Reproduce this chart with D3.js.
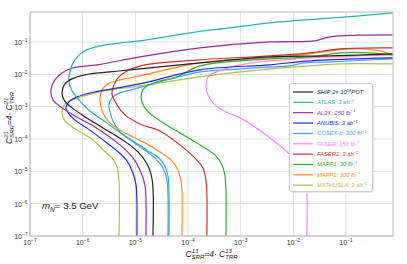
<!DOCTYPE html>
<html><head><meta charset="utf-8">
<script src="https://cdn.jsdelivr.net/npm/d3@7"></script>
<style>body{margin:0;background:#fff}svg{display:block}text{font-family:"Liberation Sans",Arial,sans-serif}</style>
</head><body>
<svg id="c" width="407" height="264"></svg>
<script>
// ---------- data ----------
const xTicks = [1e-7, 1e-6, 1e-5, 1e-4, 1e-3, 1e-2, 1e-1];
const yTicks = [1e-7, 1e-6, 1e-5, 1e-4, 1e-3, 1e-2, 1e-1];
const tickExp = ["-7", "-6", "-5", "-4", "-3", "-2", "-1"];

const seriesLabels = [
  "SHIP:2\u00d7 10^{18} POT", "ATLAS: 3 ab^{\u22121}", "AL3X: 250 fb^{\u22121}", "ANUBIS: 3 ab^{\u22121}",
  "COSEX-b: 300 fb^{\u22121}", "FASER: 150 fb^{\u22121}", "FASER2: 3 ab^{\u22121}", "MAPP1: 30 fb^{\u22121}",
  "MAPP2: 300 fb^{\u22121}", "MATHUSLA: 3 ab^{\u22121}"
];
const seriesColors = ["#222222", "#22b4b4", "#9c2a9c", "#2626f0", "#38a6ff", "#ff80ff", "#c83434", "#26b526", "#ff8c1e", "#bcbc3c"];

// contour points [C13, C21], from y = 1e-7 up around the nose to the right edge
const ship = [[2.16e-5,1e-7],[2.16e-5,3.06e-6],[1.98e-5,8.3e-6],[1.59e-5,1.95e-5],[1.12e-5,3.99e-5],[6.93e-6,7.6e-5],[2.43e-6,2.21e-4],[1.2e-6,4.5e-4],[6.3e-7,9.2e-4],[4.42e-7,1.63e-3],[4.05e-7,2.67e-3],[4.6e-7,5.08e-3],[6.3e-7,7.26e-3],[1.1e-6,9.66e-3],[3.3e-6,1.19e-2],[1.22e-5,1.48e-2],[1.68e-4,2.27e-2],[3.58e-3,3.48e-2],[4.93e-2,3.74e-2],[0.77,4.32e-2]];
const atlas = [[4.34e-5,1e-7],[4.34e-5,2.65e-6],[4.16e-5,7.2e-6],[3.65e-5,1.47e-5],[2.8e-5,2.6e-5],[1.73e-5,4.29e-5],[9.0e-6,8.7e-5],[4.68e-6,1.78e-4],[2.54e-6,3.63e-4],[1.38e-6,7.4e-4],[8.5e-7,1.63e-3],[6.3e-7,3.08e-3],[5.5e-7,5.86e-3],[5.7e-7,1.19e-2],[7.1e-7,2.81e-2],[1.1e-6,5.35e-2],[2.13e-6,7.62e-2],[5.1e-6,9.44e-2],[1.22e-5,0.109],[1.09e-4,0.193],[6.24e-4,0.275],[3.58e-3,0.393],[3.18e-2,0.522],[0.183,0.647],[0.77,0.8]];
const al3x = [[1.59e-5,1e-7],[1.59e-5,1.3e-6],[1.52e-5,3.8e-6],[1.22e-5,1.1e-5],[9.0e-6,2.6e-5],[5.1e-6,6.6e-5],[1.71e-6,2.37e-4],[7.1e-7,5.19e-4],[4.05e-7,9.2e-4],[2.73e-7,1.63e-3],[2.5e-7,3.31e-3],[2.98e-7,6.76e-3],[4.05e-7,1.11e-2],[6.5e-7,1.59e-2],[1.87e-6,1.97e-2],[1.22e-5,3.48e-2],[1.68e-4,6.61e-2],[3.58e-3,0.101],[2.56e-2,0.109],[4.93e-2,0.145],[0.77,0.167]];
const anubis = [[1.07e-5,1e-7],[1.07e-5,1.3e-6],[1.03e-5,3.8e-6],[9.0e-6,8.9e-6],[6.93e-6,2.1e-5],[4.48e-6,4.29e-5],[2.43e-6,9.4e-5],[1.26e-6,2.06e-4],[7.1e-7,3.9e-4],[5.3e-7,6.43e-4],[4.8e-7,9.2e-4],[5.5e-7,1.41e-3],[7.8e-7,2.01e-3],[1.71e-6,2.87e-3],[1.22e-5,5.08e-3],[1.68e-4,1.38e-2],[3.58e-3,1.97e-2],[2.06e-2,2.62e-2],[0.77,3.24e-2]];
const cosex = [[4.16e-5,1e-7],[4.16e-5,1.86e-6],[3.98e-5,5.4e-6],[3.34e-5,1.27e-5],[2.35e-5,2.6e-5],[1.39e-5,4.93e-5],[7.9e-6,9.4e-5],[5.1e-6,1.66e-4],[3.76e-6,3.63e-4],[3.3e-6,6.9e-4],[3.15e-6,1.14e-3],[3.6e-6,1.87e-3],[5.1e-6,2.67e-3],[9.8e-6,3.56e-3],[2.93e-5,5.86e-3],[1.68e-4,1.19e-2],[9.7e-4,1.48e-2],[3.58e-3,1.71e-2],[8.6e-3,1.83e-2],[1.65e-2,2.27e-2],[4.93e-2,2.44e-2],[0.77,3.02e-2]];
const faser = [[1.8e-2,1e-7],[1.8e-2,2.65e-6],[1.65e-2,6.7e-6],[1.22e-2,1.69e-5],[6.9e-3,4.6e-5],[3.58e-3,1.08e-4],[1.86e-3,2.37e-4],[9.7e-4,4.5e-4],[4.8e-4,7.4e-4],[3.1e-4,1.22e-3],[2.39e-4,2.32e-3],[2.19e-4,4.73e-3],[2.39e-4,8.37e-3],[2.84e-4,1.04e-2],[4.4e-4,1.38e-2],[9.7e-4,1.97e-2],[3.58e-3,2.62e-2],[2.06e-2,3.24e-2],[0.77,4.02e-2]];
const faser2 = [[2.28e-4,1e-7],[2.28e-4,1.86e-6],[2.19e-4,5.4e-6],[1.92e-4,1.27e-5],[1.35e-4,2.6e-5],[7.0e-5,6.6e-5],[2.93e-5,1.78e-4],[1.22e-5,2.93e-4],[6.35e-6,5.57e-4],[4.48e-6,1.14e-3],[3.6e-6,2.49e-3],[3.93e-6,4.73e-3],[4.68e-6,7.8e-3],[6.93e-6,1.28e-2],[1.52e-5,1.97e-2],[1.68e-4,2.81e-2],[3.58e-3,3.74e-2],[2.06e-2,4.63e-2],[7.6e-2,6.17e-2],[0.77,6.61e-2]];
const mapp1 = [[5.24e-4,1e-7],[5.24e-4,2.65e-6],[5.0e-4,7.7e-6],[4.4e-4,1.58e-5],[3.24e-4,3.22e-5],[1.68e-4,6.6e-5],[7.0e-5,1.55e-4],[3.65e-5,2.93e-4],[2.16e-5,5.19e-4],[1.52e-5,9.2e-4],[1.28e-5,2.01e-3],[1.39e-5,3.31e-3],[1.66e-5,4.4e-3],[2.57e-5,5.86e-3],[6.15e-5,8.37e-3],[1.68e-4,1.83e-2],[3.58e-3,3.02e-2],[2.06e-2,3.48e-2],[7.6e-2,4.63e-2],[0.283,4.63e-2],[0.77,4.02e-2]];
const mapp2 = [[7.66e-5,1e-7],[7.66e-5,2.65e-6],[7.3e-5,5.4e-6],[6.43e-5,1.1e-5],[4.95e-5,2.1e-5],[2.93e-5,3.99e-5],[1.52e-5,7.6e-5],[6.35e-6,1.55e-4],[3.3e-6,3.15e-4],[2.43e-6,6.43e-4],[2.13e-6,1.63e-3],[2.32e-6,3.31e-3],[3.02e-6,5.08e-3],[5.1e-6,6.76e-3],[1.22e-5,8.99e-3],[1.68e-4,2.27e-2],[3.58e-3,3.24e-2],[2.06e-2,4.32e-2],[0.118,6.17e-2],[0.438,5.35e-2],[0.77,4.02e-2]];
const mathusla = [[4.89e-6,1e-7],[4.89e-6,5.4e-6],[4.48e-6,1.37e-5],[3.6e-6,2.6e-5],[2.43e-6,4.6e-5],[1.57e-6,9.4e-5],[7.8e-7,1.91e-4],[4.6e-7,3.63e-4],[4.05e-7,6.43e-4],[4.6e-7,1.22e-3],[7.1e-7,1.74e-3],[2.13e-6,2.87e-3],[1.22e-5,4.4e-3],[1.68e-4,8.37e-3],[3.58e-3,1.48e-2],[2.06e-2,1.83e-2],[7.6e-2,2.11e-2],[0.77,2.11e-2]];
const seriesData = [ship, atlas, al3x, anubis, cosex, faser, faser2, mapp1, mapp2, mathusla];
const drawOrder = [4, 5, 9, 8, 7, 6, 3, 2, 1, 0];

// ---------- layout ----------
const svg = d3.select("#c");
const L = 30, R = 393, T = 12, B = 236;
const x = d3.scaleLog().domain([1e-7, 0.78]).range([L, R]);
const y = d3.scaleLog().domain([1e-7, 0.85]).range([B, T]);

// math text helper
function mathText(parent, parts, fs, anchor, fill, italic) {
  const g = parent.append("g");
  let cur = 0;
  const put = (t, dx, dy, size, it) => {
    const n = g.append("text").attr("x", dx).attr("y", dy).attr("font-size", size)
      .attr("fill", fill).attr("font-style", it ? "italic" : "normal").text(t);
    return n.node().getComputedTextLength();
  };
  parts.forEach(p => {
    if (p.t !== undefined) cur += put(p.t, cur, 0, fs, p.i !== undefined ? p.i : italic);
    else {
      let w1 = 0, w2 = 0;
      if (p.sup) w1 = put(p.sup, cur, -fs * 0.42, fs * 0.7, p.i !== undefined ? p.i : italic);
      if (p.sub) w2 = put(p.sub, cur, fs * 0.28, fs * 0.7, p.i !== undefined ? p.i : italic);
      cur += Math.max(w1, w2);
    }
  });
  const off = anchor === "middle" ? -cur / 2 : anchor === "end" ? -cur : 0;
  g.selectAll("text").attr("x", function() { return +this.getAttribute("x") + off; });
  return g;
}
function parseLabel(s) {
  const parts = [];
  const re = /\^\{([^}]*)\}/g;
  let last = 0, m;
  while ((m = re.exec(s))) {
    if (m.index > last) parts.push({t: s.slice(last, m.index)});
    parts.push({sup: m[1]});
    last = re.lastIndex;
  }
  if (last < s.length) parts.push({t: s.slice(last)});
  return parts;
}

// grid
const grid = svg.append("g");
grid.selectAll(".gx").data(xTicks).join("line")
  .attr("x1", d => x(d)).attr("x2", d => x(d)).attr("y1", T).attr("y2", B)
  .attr("stroke", "#dedede").attr("stroke-width", 1);
grid.selectAll(".gy").data(yTicks).join("line")
  .attr("x1", L).attr("x2", R).attr("y1", d => y(d)).attr("y2", d => y(d))
  .attr("stroke", "#dedede").attr("stroke-width", 1);

// curves
svg.append("clipPath").attr("id", "clip").append("rect").attr("x", L).attr("y", T).attr("width", R - L).attr("height", B - T);
const line = d3.line().x(d => x(d[0])).y(d => y(d[1])).curve(d3.curveCatmullRom.alpha(0.5));
const cg = svg.append("g").attr("clip-path", "url(#clip)");
drawOrder.forEach(i => {
  cg.append("path").attr("d", line(seriesData[i])).attr("fill", "none")
    .attr("stroke", seriesColors[i]).attr("stroke-width", 1.2);
});

// frame
svg.append("rect").attr("x", L).attr("y", T).attr("width", R - L).attr("height", B - T)
  .attr("fill", "none").attr("stroke", "#b8b8b8").attr("stroke-width", 1);

// tick labels
xTicks.forEach((d, i) => {
  const g = mathText(svg, [{t: "10"}, {sup: "\u2212" + tickExp[i].slice(1)}], 7, "middle", "#333", false);
  g.attr("transform", `translate(${x(d)},${245})`);
});
yTicks.forEach((d, i) => {
  const g = mathText(svg, [{t: "10"}, {sup: "\u2212" + tickExp[i].slice(1)}], 7, "end", "#333", false);
  g.attr("transform", `translate(${L - 2.5},${y(d) + 3})`);
});

// axis titles
const xl = mathText(svg, [{t: "C"}, {sup: "13", sub: "SRR"}, {t: "=4\u00b7 C"}, {sup: "13", sub: "TRR"}], 8.5, "middle", "#222", true);
xl.attr("transform", `translate(${(L + R) / 2},${257})`);
const yl = mathText(svg, [{t: "C"}, {sup: "21", sub: "SRR"}, {t: "=4\u00b7 C"}, {sup: "21", sub: "TRR"}], 8.5, "middle", "#222", true);
yl.attr("transform", `translate(12,${118}) rotate(-90)`);

// annotation
const an = mathText(svg, [{t: "m", i: true}, {sub: "N", i: true}, {t: " = 3.5 GeV", i: false}], 9.6, "start", "#222", false);
an.attr("transform", "translate(42,209)");

// legend
const lg = svg.append("g");
lg.append("rect").attr("x", 291).attr("y", 85).attr("width", 83).attr("height", 108).attr("rx", 2)
  .attr("fill", "#e6e6e6");
lg.append("rect").attr("x", 289.5).attr("y", 83.5).attr("width", 83).attr("height", 108).attr("rx", 2)
  .attr("fill", "#fff").attr("stroke", "#cccccc").attr("stroke-width", 1);
seriesLabels.forEach((s, i) => {
  const cy = 92 + i * 10.35;
  lg.append("line").attr("x1", 293).attr("x2", 313).attr("y1", cy).attr("y2", cy)
    .attr("stroke", seriesColors[i]).attr("stroke-width", 1.2);
  const g = mathText(lg, parseLabel(s), 5.8, "start", seriesColors[i], true);
  g.attr("transform", `translate(317,${cy + 2})`);
});
</script>
</body></html>
